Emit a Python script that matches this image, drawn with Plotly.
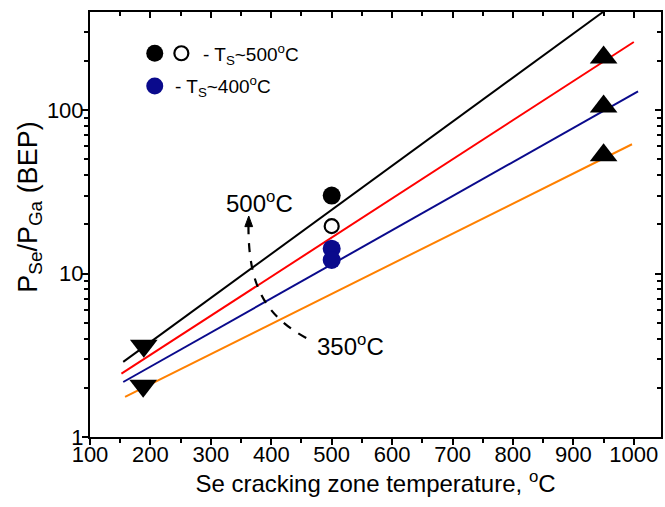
import plotly.graph_objects as go

# ---- data ----
fit_black_x = [155, 949]
fit_black_y = [2.88, 398]
fit_red_x = [152, 1000]
fit_red_y = [2.44, 261]
fit_blue_x = [155, 1007]
fit_blue_y = [2.17, 130]
fit_orange_x = [158, 997]
fit_orange_y = [1.76, 61.8]

down_tri_x = [189, 188]
down_tri_y = [3.62, 2.06]
up_tri_x = [950, 950, 950]
up_tri_y = [210, 105, 53]

ts500_filled_x = [500]
ts500_filled_y = [30]
ts500_open_x = [500]
ts500_open_y = [19.5]
ts400_x = [500, 500]
ts400_y = [14.2, 12.1]

x_ticks = [100, 200, 300, 400, 500, 600, 700, 800, 900, 1000]
y_ticks = [1, 10, 100]
y_tick_labels = ["1", "10", "100"]

NAVY = "#0a0a8c"
FONT = "Liberation Sans"

fig = go.Figure()
for xs, ys, c in [(fit_black_x, fit_black_y, "black"),
                  (fit_red_x, fit_red_y, "#ff0000"),
                  (fit_blue_x, fit_blue_y, NAVY),
                  (fit_orange_x, fit_orange_y, "#ff8000")]:
    fig.add_trace(go.Scatter(x=xs, y=ys, mode="lines",
                             line=dict(color=c, width=2), showlegend=False))

fig.add_trace(go.Scatter(x=down_tri_x, y=down_tri_y, mode="markers",
                         marker=dict(symbol="triangle-down", size=24, color="black"),
                         showlegend=False))
fig.add_trace(go.Scatter(x=up_tri_x, y=up_tri_y, mode="markers",
                         marker=dict(symbol="triangle-up", size=24, color="black"),
                         showlegend=False))
fig.add_trace(go.Scatter(x=ts500_filled_x, y=ts500_filled_y, mode="markers",
                         marker=dict(symbol="circle", size=18, color="black"),
                         showlegend=False))
fig.add_trace(go.Scatter(x=ts500_open_x, y=ts500_open_y, mode="markers",
                         marker=dict(symbol="circle", size=14, color="white",
                                     line=dict(color="black", width=2.2)),
                         showlegend=False))
fig.add_trace(go.Scatter(x=ts400_x, y=ts400_y, mode="markers",
                         marker=dict(symbol="circle", size=18, color=NAVY),
                         showlegend=False))
# invisible trace for mirrored-axis ticks
fig.add_trace(go.Scatter(x=[500], y=[10], xaxis="x2", yaxis="y2", mode="markers",
                         marker=dict(opacity=0), showlegend=False, hoverinfo="skip"))

XR = [100, 1045]
YR = [0, 2.6]
tickfont = dict(family=FONT, size=22, color="black")

fig.update_layout(
    width=665, height=507,
    margin=dict(l=90, r=2, t=12, b=70),
    paper_bgcolor="white", plot_bgcolor="white",
    font=dict(family=FONT, color="black"),
    xaxis=dict(range=XR, tickvals=x_ticks, showgrid=False, zeroline=False,
               showline=True, linecolor="black", linewidth=2, mirror=True,
               ticks="outside", ticklen=6, tickwidth=2, tickcolor="black",
               ticklabelstandoff=-9,
               minor=dict(dtick=50, tick0=100, ticks="outside", ticklen=4, tickwidth=2, tickcolor="black"),
               tickfont=tickfont,
               title=dict(text="Se cracking zone temperature, <sup>o</sup>C",
                          font=dict(family=FONT, size=24), standoff=2)),
    yaxis=dict(type="log", range=YR, tickvals=y_ticks, ticktext=y_tick_labels,
               showgrid=False, zeroline=False,
               showline=True, linecolor="black", linewidth=2, mirror=True,
               ticks="outside", ticklen=6, tickwidth=2, tickcolor="black",
               ticklabelstandoff=-6,
               minor=dict(dtick="D1", ticks="outside", ticklen=4, tickwidth=2, tickcolor="black"),
               tickfont=tickfont),
    xaxis2=dict(range=XR, overlaying="x", side="top", anchor="y",
                tickvals=x_ticks, showticklabels=False, showgrid=False, zeroline=False,
                ticks="inside", ticklen=6, tickwidth=2, tickcolor="black",
                minor=dict(dtick=50, tick0=100, ticks="inside", ticklen=4, tickwidth=2, tickcolor="black")),
    yaxis2=dict(type="log", range=YR, overlaying="y", side="right", anchor="x",
                tickvals=y_ticks, showticklabels=False, showgrid=False, zeroline=False,
                ticks="inside", ticklen=6, tickwidth=2, tickcolor="black",
                minor=dict(dtick="D1", ticks="inside", ticklen=4, tickwidth=2, tickcolor="black")),
)

# y-axis title
fig.add_annotation(xref="paper", yref="paper", x=-0.1047, y=0.54, showarrow=False,
                   text="P<sub>Se</sub>/P<sub>Ga</sub> (BEP)", textangle=-90,
                   font=dict(family=FONT, size=27, color="black"),
                   xanchor="center", yanchor="middle")

# dashed curved arrow
fig.add_shape(type="path", xref="paper", yref="paper",
              path="M 0.3787 0.2329 C 0.3054 0.2871, 0.2775 0.3576, 0.2775 0.4965",
              line=dict(color="black", width=2.2, dash="dash"))
fig.add_shape(type="path", xref="paper", yref="paper",
              path="M 0.2780 0.5200 L 0.2712 0.4950 L 0.2848 0.4950 Z",
              fillcolor="black", line=dict(color="black", width=1))

annfont = dict(family=FONT, size=24, color="black")
fig.add_annotation(xref="paper", yref="paper", x=0.2967, y=0.5536, showarrow=False,
                   text="500<sup>o</sup>C", font=annfont, xanchor="center", yanchor="middle")
fig.add_annotation(xref="paper", yref="paper", x=0.4567, y=0.2165, showarrow=False,
                   text="350<sup>o</sup>C", font=annfont, xanchor="center", yanchor="middle")

# legend-like key
fig.add_shape(type="circle", xref="paper", yref="paper", xsizemode="pixel", ysizemode="pixel",
              xanchor=0.1134, yanchor=0.903, x0=-8.5, x1=8.5, y0=-8.5, y1=8.5,
              fillcolor="black", line=dict(color="black", width=0))
fig.add_shape(type="circle", xref="paper", yref="paper", xsizemode="pixel", ysizemode="pixel",
              xanchor=0.160, yanchor=0.903, x0=-7, x1=7, y0=-7, y1=7,
              fillcolor="white", line=dict(color="black", width=2.2))
fig.add_shape(type="circle", xref="paper", yref="paper", xsizemode="pixel", ysizemode="pixel",
              xanchor=0.1134, yanchor=0.826, x0=-8.5, x1=8.5, y0=-8.5, y1=8.5,
              fillcolor=NAVY, line=dict(color=NAVY, width=0))
legfont = dict(family=FONT, size=19, color="black")
fig.add_annotation(xref="paper", yref="paper", x=0.195, y=0.901, showarrow=False,
                   text="- T<sub>S</sub>~500<sup>o</sup>C", font=legfont, xanchor="left", yanchor="middle")
fig.add_annotation(xref="paper", yref="paper", x=0.145, y=0.824, showarrow=False,
                   text="- T<sub>S</sub>~400<sup>o</sup>C", font=legfont, xanchor="left", yanchor="middle")

fig.write_html("out.html")
